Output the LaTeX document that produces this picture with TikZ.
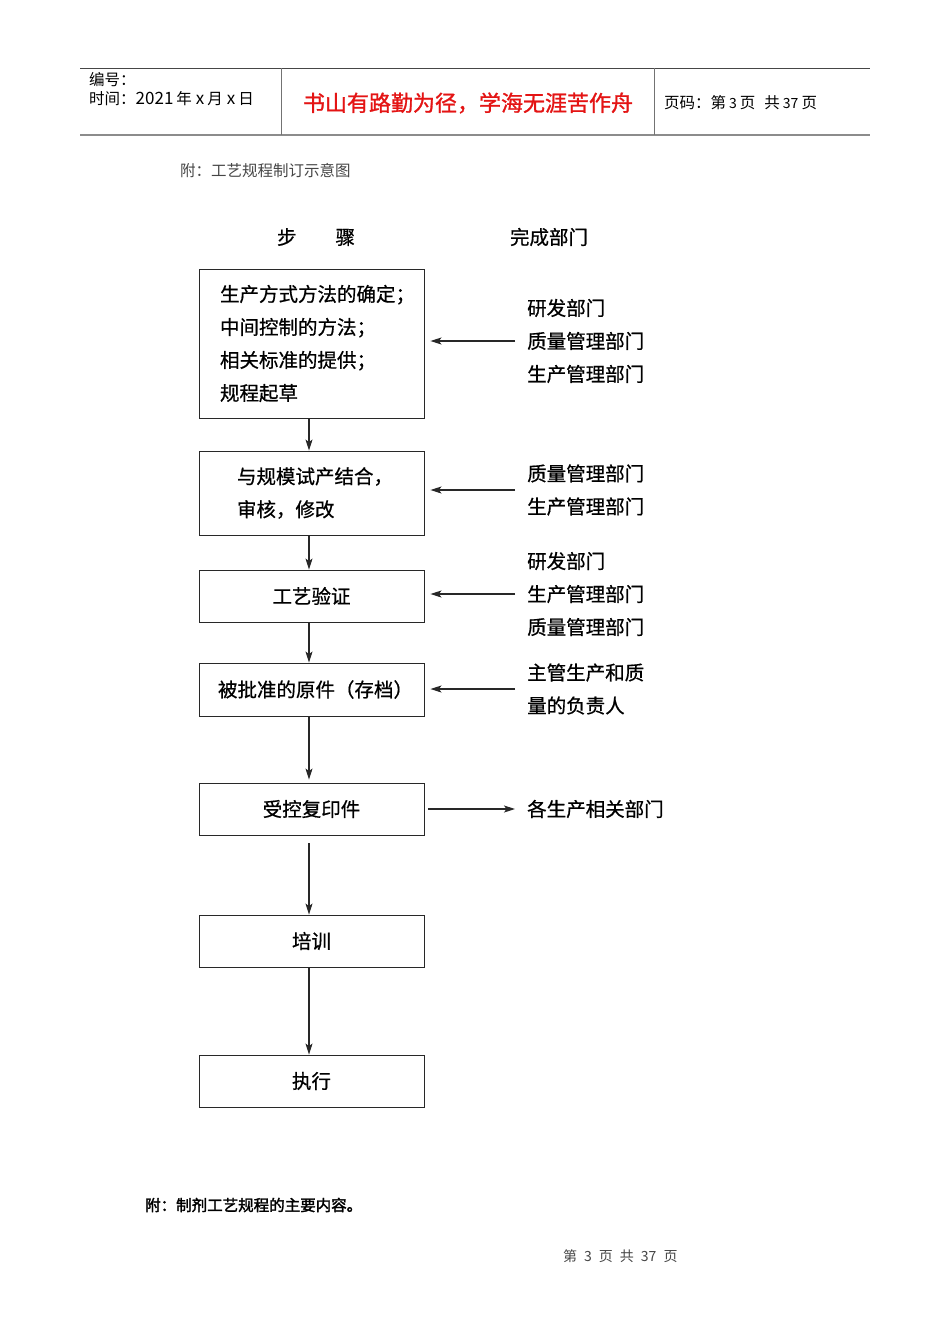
\documentclass[tikz,border=0pt]{standalone}
\usepackage{fontspec}
\setmainfont{Noto Sans CJK SC}[AutoFakeBold=2]
\newfontfamily\flowfont{Noto Sans CJK SC}[FakeBold=0.7]
\newfontfamily\redfont{Noto Sans CJK SC}[FakeBold=1.2]
\usetikzlibrary{arrows.meta}
\definecolor{redtxt}{RGB}{228,20,20}
\definecolor{graytxt}{RGB}{70,70,70}
\definecolor{boxline}{RGB}{40,40,40}
\tikzset{
  stepbox/.style={draw=boxline, line width=0.9pt, minimum width=225pt, inner sep=0pt, font=\flowfont\fontsize{19.5}{33}\selectfont},
  dept/.style={anchor=west, inner sep=0pt, align=left, font=\flowfont\fontsize{19.5}{33}\selectfont},
  arr/.style={draw=boxline, line width=1.1pt, -{Stealth[length=11pt,width=7pt,inset=2.5pt]}},
  hdr/.style={inner sep=0pt, font=\fontsize{15.5}{19}\selectfont}
}
\begin{document}
\begin{tikzpicture}[x=1pt,y=-1pt]
\useasboundingbox[fill=white] (0,0) rectangle (950,1344);

% header table
\draw[line width=1pt, color=graytxt] (80,68) -- (870,68);
\draw[line width=2.5pt, color=black!45] (80,135) -- (870,135);
\draw[line width=1pt, color=black!55] (281,68) -- (281,135);
\draw[line width=1pt, color=black!55] (654,68) -- (654,135);
\node[hdr, anchor=west] (h1) at (89,80) {编号：};
\node[hdr, anchor=west] (h2) at (89,99) {时间：{\fontsize{17}{19}\selectfont 2021}\hspace{3pt}年\hspace{4pt}{\fontsize{17}{19}\selectfont x}\hspace{3pt}月\hspace{4pt}{\fontsize{17}{19}\selectfont x}\hspace{3pt}日};
\node[inner sep=0pt, font=\redfont\fontsize{22}{26}\selectfont, text=redtxt] (h3) at (468,103) {书山有路勤为径，学海无涯苦作舟};
\node[hdr, anchor=west] (h4) at (664,103) {页码：第\hspace{3pt}{\fontsize{14}{19}\selectfont 3}\hspace{3pt}页\hspace{9pt}共\hspace{3pt}{\fontsize{14}{19}\selectfont 37}\hspace{3pt}页};

\node[hdr, anchor=west, text=graytxt] (cap) at (180,171) {附：工艺规程制订示意图};

% column titles
\node[inner sep=0pt, font=\flowfont\fontsize{19.5}{22}\selectfont] (t1) at (316,237) {步　　骤};
\node[inner sep=0pt, font=\flowfont\fontsize{19.5}{22}\selectfont] (t2) at (549,237) {完成部门};

% step boxes
\node[stepbox, minimum height=149pt, text width=183pt, inner xsep=0pt, align=left] (b1) at (311.5,343.5)
  {生产方式方法的确定；\\中间控制的方法；\\相关标准的提供；\\规程起草};
\node[stepbox, minimum height=84pt, text width=149pt, inner xsep=0pt, align=left] (b2) at (311.5,493)
  {与规模试产结合，\\审核，修改};
\node[stepbox, minimum height=52pt] (b3) at (311.5,596) {工艺验证};
\node[stepbox, minimum height=53pt] (b4) at (311.5,689.5) {\hspace*{8pt}被批准的原件（存档）};
\node[stepbox, minimum height=52pt] (b5) at (311.5,809) {受控复印件};
\node[stepbox, minimum height=52pt] (b6) at (311.5,941) {培训};
\node[stepbox, minimum height=52pt] (b7) at (311.5,1081) {执行};

% departments
\node[dept] (d1) at (527,341) {研发部门\\质量管理部门\\生产管理部门};
\node[dept] (d2) at (527,490) {质量管理部门\\生产管理部门};
\node[dept] (d3) at (527,594) {研发部门\\生产管理部门\\质量管理部门};
\node[dept] (d4) at (527,689) {主管生产和质\\量的负责人};
\node[dept] (d5) at (527,809) {各生产相关部门};

% vertical flow
\draw[arr] ([xshift=-2.5pt]b1.south) -- ([xshift=-2.5pt]b2.north);
\draw[arr] ([xshift=-2.5pt]b2.south) -- ([xshift=-2.5pt]b3.north);
\draw[arr] ([xshift=-2.5pt]b3.south) -- ([xshift=-2.5pt]b4.north);
\draw[arr, shorten >=3pt] ([xshift=-2.5pt]b4.south) -- ([xshift=-2.5pt]b5.north);
\draw[arr, shorten <=8pt] ([xshift=-2.5pt]b5.south) -- ([xshift=-2.5pt]b6.north);
\draw[arr] ([xshift=-2.5pt]b6.south) -- ([xshift=-2.5pt]b7.north);

% department arrows
\draw[arr, shorten <=12pt, shorten >=6pt] (d1.west) -- (d1.west -| b1.east);
\draw[arr, shorten <=12pt, shorten >=6pt] (d2.west) -- (d2.west -| b2.east);
\draw[arr, shorten <=12pt, shorten >=6pt] (d3.west) -- (d3.west -| b3.east);
\draw[arr, shorten <=12pt, shorten >=6pt] (d4.west) -- (d4.west -| b4.east);
\draw[arr, shorten <=4pt, shorten >=12pt] (b5.east) -- (d5.west);

% footer
\node[hdr, anchor=west, font=\bfseries\fontsize{15.5}{19}\selectfont] (f1) at (145,1205) {附：制剂工艺规程的主要内容。};
\node[inner sep=0pt, anchor=west, text=graytxt, font=\fontsize{14}{16}\selectfont] (f2) at (563,1256) {第\hspace{7pt}3\hspace{7pt}页\hspace{7pt}共\hspace{7pt}37\hspace{7pt}页};
\end{tikzpicture}
\end{document}
